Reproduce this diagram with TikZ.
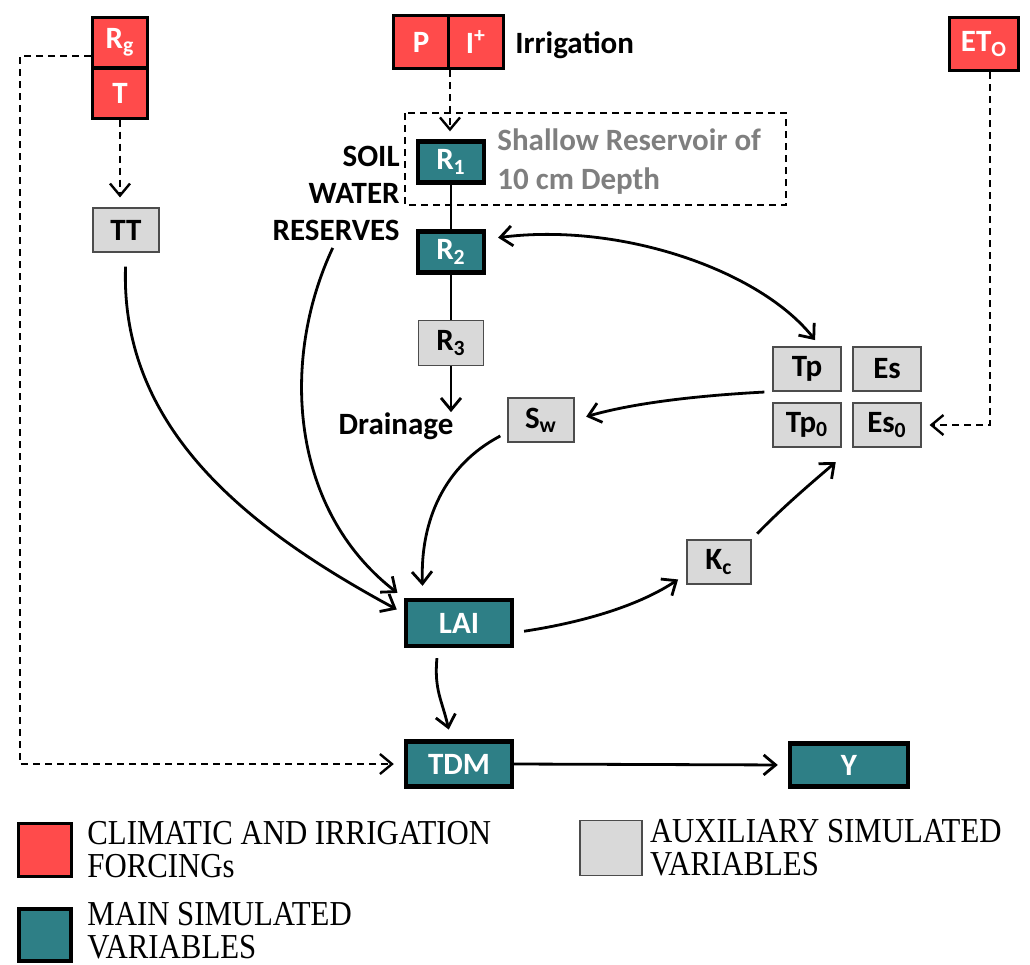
\documentclass[tikz,border=0pt]{standalone}
\usepackage{fontspec}
\setmainfont{Carlito}
\newfontfamily\legfont{Liberation Serif}[FakeStretch=0.88]
\usepackage{tikz}
\usetikzlibrary{shapes}
\usetikzlibrary{positioning}
\usetikzlibrary{arrows.meta}
\definecolor{forcered}{HTML}{FF4B4B}
\definecolor{mainteal}{HTML}{2E7F86}
\definecolor{auxgray}{HTML}{D9D9D9}
\definecolor{notegray}{HTML}{7F7F7F}
\tikzset{
  varbox/.style={rectangle, inner sep=0pt, font=\fontsize{15.5}{18}\selectfont\bfseries},
  forcing/.style={varbox, fill=forcered, draw=black, line width=1.5pt, text=white, minimum width=27.5pt, minimum height=26.5pt},
  mainvar/.style={varbox, fill=mainteal, draw=black, line width=2.2pt, text=white, minimum width=33pt, minimum height=20.5pt},
  auxvar/.style={varbox, fill=auxgray, draw=gray!60!black, line width=0.6pt, minimum width=33pt, minimum height=22pt},
  lbl/.style={inner sep=0pt, font=\fontsize{15.5}{18.5}\selectfont\bfseries},
  legtxt/.style={inner sep=0pt, align=left, font=\legfont\fontsize{17.5}{16.5}\selectfont},
  link/.style={line width=1.4pt, >={Straight Barb[length=6pt,width=10pt]}, ->},
  dlink/.style={link, dash pattern=on 3.5pt off 2.5pt, line width=1.2pt},
}

\begin{document}
\begin{tikzpicture}[x=0.5pt, y=-0.5pt]
        \useasboundingbox (0,0) rectangle (1030,965);
        %Forcings
        \node [forcing, minimum height=25pt] (Rg) at (120,42){R\textsubscript{g}};
        \node [forcing, minimum height=25pt] (T) at (120,93){T};
        \node [forcing] (P) at (421,42){P};
        \node [forcing] (I) at (476,42){I\textsuperscript{+}};
        \node [forcing, minimum width=34.5pt] (ET0) at (984,44){ET\textsubscript{O}};
        \node [lbl, anchor=west] (irrig) at (515,45){Irrigation};
        %Reservoirs
        \draw [dash pattern=on 3.5pt off 2.5pt, line width=0.9pt] (405,113) rectangle (786,205);
        \node [mainvar] (R1) at (451,162){R\textsubscript{1}};
        \node [mainvar] (R2) at (451,252){R\textsubscript{2}};
        \node [auxvar, minimum width=32.5pt, minimum height=22.5pt] (R3) at (451,343){R\textsubscript{3}};
        \node [lbl, anchor=east, align=right] (SWR) at (400,193){SOIL\\WATER\\RESERVES};
        \node [lbl, anchor=west, align=left, text=notegray, font=\fontsize{15.5}{19.5}\selectfont\bfseries] (shallow) at (497,162){Shallow Reservoir of\\10 cm Depth};
        \node [lbl] (Drainage) at (396,426){Drainage};
        %Auxiliary variables
        \node [auxvar] (TT) at (126,230){TT};
        \node [auxvar] (Sw) at (541,420){S\textsubscript{w}};
        \node [auxvar, minimum width=34pt] (Tp) at (807,369){Tp};
        \node [auxvar, minimum width=34pt] (Es) at (887,369){Es};
        \node [auxvar, minimum width=34pt] (Tp0) at (807,425){Tp\textsubscript{0}};
        \node [auxvar, minimum width=34pt] (Es0) at (887,425){Es\textsubscript{0}};
        \node [auxvar, minimum width=32pt] (Kc) at (719,562){K\textsubscript{c}};
        %Main variables
        \node [mainvar, minimum width=53pt, minimum height=23pt] (LAI) at (459,623){LAI};
        \node [mainvar, minimum width=53pt, minimum height=22.5pt] (TDM) at (459,764){TDM};
        \node [mainvar, minimum width=59pt, minimum height=21.5pt] (Y) at (849,765){Y};
        %Dashed links
        \coordinate (rgbend) at (20,400);
        \draw [dlink, shorten >=5pt] ([yshift=-7pt]Rg.west) -| (rgbend) |- (TDM.west);
        \draw [dlink, shorten >=5pt] (T.south) -- (T.south |- TT.north);
        \draw [dlink, shorten >=4pt] (P.south east) -- (P.south east |- R1.north);
        \draw [dlink, shorten >=4pt] ([xshift=3pt]ET0.south) |- (Es0.east);
        %Solid links
        \draw [line width=1.4pt] (R1) -- (R2); \draw [line width=1.4pt] (R2) -- (R3);
        \draw [link] (R3.south) -- (R3.south |- Drainage.north);
        \draw [link, <->, shorten <=6pt, shorten >=4pt] (R2.20) .. controls (620,222) and (760,270) .. (Tp.60);
        \draw [link, shorten <=4pt, shorten >=6pt] (Tp.south west) .. controls (690,396) and (630,404) .. (Sw.east);
        \draw [link, shorten <=4pt, shorten >=6pt] (Sw.200) .. controls (445,465) and (420,520) .. (LAI.145);
        \draw [link, shorten <=7pt, shorten >=4pt] (TT.south) .. controls (120,430) and (250,530) .. (LAI.170);
        \draw [link, shorten <=4pt, shorten >=4pt] (SWR.south) .. controls (280,360) and (290,510) .. (LAI.north west);
        \draw [link, shorten <=5pt, shorten >=5pt] (LAI.-10) .. controls (585,622) and (640,605) .. (Kc.200);
        \draw [link, shorten <=4pt, shorten >=11pt] (Kc.north east) .. controls (785,505) and (815,480) .. (Es0.south west);
        \draw [link, shorten <=5pt, shorten >=5pt] (LAI.-130) .. controls (434,690) and (442,700) .. (TDM.108);
        \draw [link, shorten >=5pt] (TDM.east) -- (Y.west);
        %Legend
        \node [forcing, minimum width=26.5pt, minimum height=26.5pt] (legforce) at (45,850){};
        \node [legtxt, right=7pt of legforce] (legforcetxt){CLIMATIC AND IRRIGATION\\FORCINGs};
        \node [auxvar, minimum width=31pt, minimum height=27.5pt] (legaux) at (611,848){};
        \node [legtxt, right=3.5pt of legaux] (legauxtxt){AUXILIARY SIMULATED\\VARIABLES};
        \node [mainvar, minimum width=25.8pt, minimum height=25.8pt] (legmain) at (45,935){};
        \node [legtxt, right=7pt of legmain, yshift=2pt] (legmaintxt){MAIN SIMULATED\\VARIABLES};
\end{tikzpicture}
\end{document}
